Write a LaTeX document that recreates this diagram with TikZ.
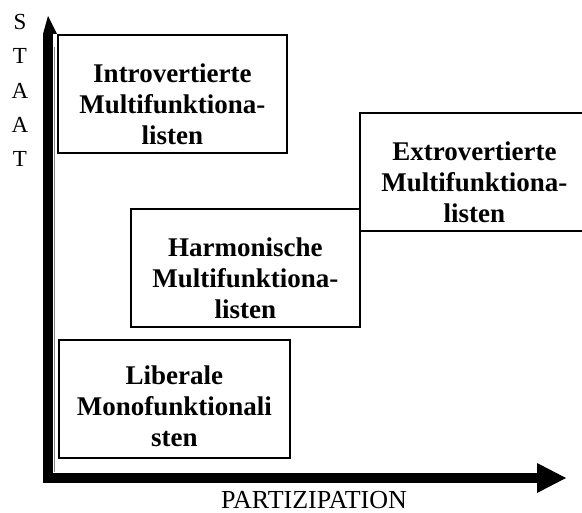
\documentclass[tikz,border=0pt]{standalone}
\usepackage{fontspec}
\setmainfont{Liberation Serif}
% extra room above the first line of a box label
\newcommand\boxgap{\rule{0pt}{38pt}}
\begin{document}
\begin{tikzpicture}[x=1pt,y=-1pt,
  box/.style={draw=black, line width=1.9pt, fill=white,
    minimum width=229pt, minimum height=118.5pt, inner sep=0pt,
    align=center, anchor=north west,
    font=\fontsize{27}{31}\selectfont\bfseries},
  axislabel/.style={inner sep=0pt},
  axisbody/.style={fill=black}]
\useasboundingbox (0,0) rectangle (582,513);
\clip (0,0) rectangle (582,513);

% axes
\coordinate (origin) at (43,483);
\coordinate (ytip) at (48,16);
\coordinate (xtip) at (566,478);
\fill[axisbody] (origin) rectangle (53,34);
\fill[axisbody] (43,34) -- (ytip) -- (57,34) -- cycle;
\draw[gray, line width=0.6pt] (54.5,47) -- (54.5,472);
\fill[axisbody] (origin) rectangle (537,473);
\fill[axisbody] (537,463) -- (xtip) -- (537,493) -- cycle;

% axis titles
\node[axislabel, font=\fontsize{23}{34.3}\selectfont, align=center, anchor=north]
  (staat) at (20,14) {S\\T\\A\\A\\T};
\node[axislabel, font=\fontsize{26}{30}\selectfont, anchor=base]
  (partizipation) at (314,508) {PARTIZIPATION};

% the four types
\node[box] (intro) at (57,34)
  {\boxgap Introvertierte\\Multifunktiona-\\listen};
\node[box] (extro) at (359,112)
  {\boxgap Extrovertierte\\Multifunktiona-\\listen};
\node[box] (harm) at (130,208)
  {\boxgap Harmonische\\Multifunktiona-\\listen};
\node[box, minimum width=231pt] (liberal) at (58,339)
  {\rule{0pt}{33pt}Liberale\\Monofunktionali\\sten};
\end{tikzpicture}
\end{document}
